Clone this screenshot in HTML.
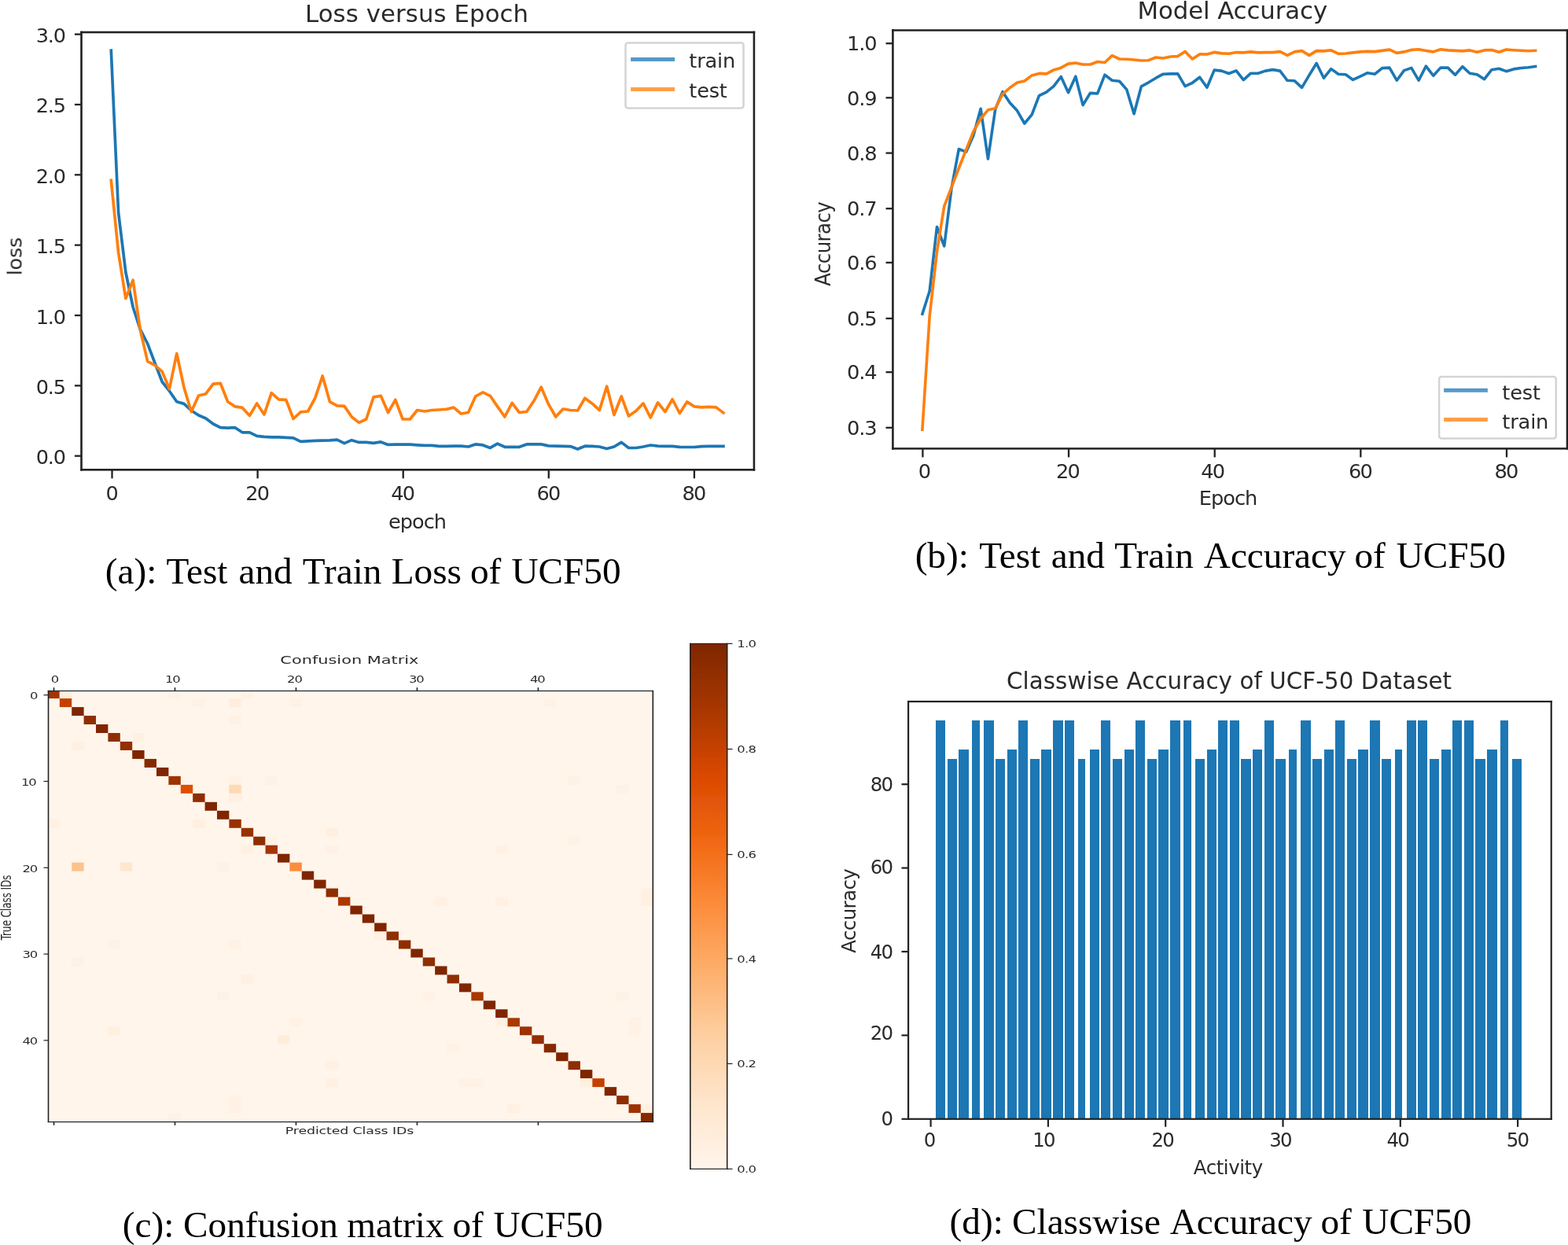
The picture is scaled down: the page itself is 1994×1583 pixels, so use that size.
<!DOCTYPE html>
<html lang="en"><head><meta charset="utf-8"><title>UCF50 training results</title>
<style>html,body{margin:0;padding:0;background:#fff}body{width:1994px;height:1583px;overflow:hidden}svg{display:block}.s{font-family:'DejaVu Sans','Liberation Sans',sans-serif}.r{font-family:'Liberation Serif','DejaVu Serif',serif}text{white-space:pre}</style></head><body>
<svg width="1994" height="1583" viewBox="0 0 1994 1583">
<rect width="1994" height="1583" fill="#ffffff"/>
<defs><filter id="bl" x="-2%" y="-2%" width="104%" height="104%"><feGaussianBlur stdDeviation="0.6"/></filter></defs><g filter="url(#bl)">
<g id="chart-a">
<polyline points="141.3,64.3 150.57,270 159.84,346 169.11,390.5 178.38,418.8 187.65,437 196.92,461.3 206.19,485.5 215.46,497.2 224.73,510.8 234,513.4 243.27,522 252.54,528 261.81,532 271.08,539 280.35,543.7 289.62,544.2 298.89,543.7 308.16,549.8 317.43,549.8 326.7,554.3 335.97,555.3 345.24,555.8 354.51,555.8 363.78,556.3 373.05,556.8 382.32,561.4 391.59,560.9 400.86,560.4 410.13,560.2 419.4,559.9 428.67,559.2 437.94,563.65 447.21,559.65 456.48,562.4 465.75,562.4 475.02,563.4 484.29,561.9 493.56,565.4 502.83,565.2 512.1,565.2 521.37,565.2 530.64,565.9 539.91,566.4 549.18,566.4 558.45,567.4 567.72,567.4 576.99,567.2 586.26,567.2 595.53,568 604.8,564.9 614.07,565.9 623.34,569.45 632.61,564.15 641.88,568.3 651.15,568.3 660.42,568.3 669.69,564.9 678.96,564.9 688.23,564.9 697.5,566.9 706.77,567.2 716.04,567.4 725.31,567.6 734.58,571.05 743.85,567.2 753.12,567.4 762.39,568 771.66,570.45 780.93,568 790.2,562.4 799.47,569.5 808.74,569.5 818.01,568 827.28,566 836.55,567.2 845.82,567.4 855.09,567.4 864.36,568.3 873.63,568.5 882.9,568.5 892.17,567.6 901.44,567.4 910.71,567.4 919.98,567.4" fill="none" stroke="#1f77b4" stroke-width="3.7" stroke-linejoin="round" stroke-linecap="square"/>
<polyline points="141.3,229.4 150.57,321 159.84,379.5 169.11,356.2 178.38,419.8 187.65,459.3 196.92,464.3 206.19,472.4 215.46,494.5 224.73,449.5 234,492.7 243.27,523.5 252.54,503 261.81,500.7 271.08,488.1 280.35,487.4 289.62,510.8 298.89,516.9 308.16,518.4 317.43,528.5 326.7,512.9 335.97,527 345.24,499.7 354.51,507.8 363.78,508.3 373.05,532.5 382.32,523.8 391.59,523 400.86,505.8 410.13,478 419.4,510.8 428.67,515.9 437.94,516.4 447.21,530 456.48,537.35 465.75,533 475.02,504.8 484.29,503.3 493.56,524.5 502.83,508.3 512.1,533 521.37,533 530.64,521.5 539.91,523 549.18,521.5 558.45,521 567.72,520.4 576.99,518.05 586.26,526 595.53,524.5 604.8,503.8 614.07,498.95 623.34,503.3 632.61,516.9 641.88,530 651.15,512.4 660.42,524.5 669.69,523.5 678.96,509.8 688.23,492.2 697.5,513.9 706.77,530 716.04,520 725.31,521.5 734.58,522 743.85,506.3 753.12,513.2 762.39,521.5 771.66,491.2 780.93,527.5 790.2,503.8 799.47,529 808.74,522.5 818.01,512.9 827.28,531 836.55,511.9 845.82,523.5 855.09,507.8 864.36,525.5 873.63,510.9 882.9,516.9 892.17,517.9 901.44,517.4 910.71,517.9 919.98,525" fill="none" stroke="#ff7f0e" stroke-width="3.7" stroke-linejoin="round" stroke-linecap="square"/>
<g fill="#222">
<rect x="102.2" y="39.7" width="858" height="2.6"/>
<rect x="102.2" y="596" width="858" height="2.6"/>
<rect x="102.2" y="39.7" width="2.6" height="558.9"/>
<rect x="957.6" y="39.7" width="2.6" height="558.9"/>
</g>
<line x1="142.5" y1="597.3" x2="142.5" y2="608.3" stroke="#222" stroke-width="2.3"/>
<text class="s" transform="translate(142.5,636)" font-size="25.57" text-anchor="middle" fill="#2b2b2b">0</text>
<line x1="327.6" y1="597.3" x2="327.6" y2="608.3" stroke="#222" stroke-width="2.3"/>
<text class="s" transform="translate(327.6,636)" font-size="25.57" text-anchor="middle" fill="#2b2b2b" textLength="30.68" lengthAdjust="spacing">20</text>
<line x1="512.7" y1="597.3" x2="512.7" y2="608.3" stroke="#222" stroke-width="2.3"/>
<text class="s" transform="translate(512.7,636)" font-size="25.57" text-anchor="middle" fill="#2b2b2b" textLength="30.68" lengthAdjust="spacing">40</text>
<line x1="697.8" y1="597.3" x2="697.8" y2="608.3" stroke="#222" stroke-width="2.3"/>
<text class="s" transform="translate(697.8,636)" font-size="25.57" text-anchor="middle" fill="#2b2b2b" textLength="30.68" lengthAdjust="spacing">60</text>
<line x1="882.9" y1="597.3" x2="882.9" y2="608.3" stroke="#222" stroke-width="2.3"/>
<text class="s" transform="translate(882.9,636)" font-size="25.57" text-anchor="middle" fill="#2b2b2b" textLength="30.68" lengthAdjust="spacing">80</text>
<line x1="94.9" y1="579.7" x2="103.5" y2="579.7" stroke="#222" stroke-width="2.3"/>
<text class="s" transform="translate(84,590.2)" font-size="25.57" text-anchor="end" fill="#2b2b2b" textLength="38.36" lengthAdjust="spacing">0.0</text>
<line x1="94.9" y1="490.35" x2="103.5" y2="490.35" stroke="#222" stroke-width="2.3"/>
<text class="s" transform="translate(84,500.85)" font-size="25.57" text-anchor="end" fill="#2b2b2b" textLength="38.36" lengthAdjust="spacing">0.5</text>
<line x1="94.9" y1="401" x2="103.5" y2="401" stroke="#222" stroke-width="2.3"/>
<text class="s" transform="translate(84,411.5)" font-size="25.57" text-anchor="end" fill="#2b2b2b" textLength="38.36" lengthAdjust="spacing">1.0</text>
<line x1="94.9" y1="311.65" x2="103.5" y2="311.65" stroke="#222" stroke-width="2.3"/>
<text class="s" transform="translate(84,322.15)" font-size="25.57" text-anchor="end" fill="#2b2b2b" textLength="38.36" lengthAdjust="spacing">1.5</text>
<line x1="94.9" y1="222.3" x2="103.5" y2="222.3" stroke="#222" stroke-width="2.3"/>
<text class="s" transform="translate(84,232.8)" font-size="25.57" text-anchor="end" fill="#2b2b2b" textLength="38.36" lengthAdjust="spacing">2.0</text>
<line x1="94.9" y1="132.95" x2="103.5" y2="132.95" stroke="#222" stroke-width="2.3"/>
<text class="s" transform="translate(84,143.45)" font-size="25.57" text-anchor="end" fill="#2b2b2b" textLength="38.36" lengthAdjust="spacing">2.5</text>
<line x1="94.9" y1="43.6" x2="103.5" y2="43.6" stroke="#222" stroke-width="2.3"/>
<text class="s" transform="translate(84,54.1)" font-size="25.57" text-anchor="end" fill="#2b2b2b" textLength="38.36" lengthAdjust="spacing">3.0</text>
<text class="s" transform="translate(530,27.6)" font-size="30.7" text-anchor="middle" fill="#2b2b2b" textLength="283.97" lengthAdjust="spacing">Loss versus Epoch</text>
<text class="s" transform="translate(531,672.4)" font-size="25.57" text-anchor="middle" fill="#2b2b2b" textLength="74.15" lengthAdjust="spacing">epoch</text>
<text class="s" transform="translate(27.5,326) rotate(-90)" font-size="25.57" text-anchor="middle" fill="#2b2b2b" textLength="48.58" lengthAdjust="spacing">loss</text>
<rect x="795.5" y="54.5" width="150" height="82.9" rx="3" fill="#fff" fill-opacity="0.8" stroke="#d4d4d4" stroke-width="2.5"/>
<line x1="802.1" y1="75.5" x2="858.1" y2="75.5" stroke="#5799c7" stroke-width="5"/>
<text class="s" transform="translate(876.3,85.7)" font-size="25.57" fill="#2b2b2b" textLength="58.81" lengthAdjust="spacing">train</text>
<line x1="802.1" y1="113.5" x2="858.1" y2="113.5" stroke="#ff9f4a" stroke-width="5"/>
<text class="s" transform="translate(876.3,123.6)" font-size="25.57" fill="#2b2b2b" textLength="48.58" lengthAdjust="spacing">test</text>
</g>
<g id="chart-b">
<polyline points="1172.9,399.2 1182.18,370 1191.47,288.5 1200.75,312.9 1210.03,239.4 1219.31,189.55 1228.6,193.15 1237.88,172.2 1247.16,138.3 1256.44,202 1265.73,138.8 1275.01,116.7 1284.29,130.7 1293.57,140.8 1302.86,157 1312.14,145.9 1321.42,121.6 1330.7,117.1 1339.99,109.6 1349.27,97.5 1358.55,117.7 1367.83,97.2 1377.12,133.6 1386.4,118.4 1395.68,118.9 1404.96,95.2 1414.25,102.3 1423.53,103.3 1432.81,113.9 1442.09,144.7 1451.38,109.8 1460.66,104.8 1469.94,99.2 1479.22,94.2 1488.51,93.9 1497.79,93.9 1507.07,109.55 1516.35,105.3 1525.64,98.2 1534.92,111.3 1544.2,89.1 1553.48,90.1 1562.77,93.45 1572.05,89.85 1581.33,101.7 1590.61,93.2 1599.89,93.2 1609.18,90.1 1618.46,88.6 1627.74,90.1 1637.03,102.3 1646.31,102.8 1655.59,111.3 1664.87,95.7 1674.16,80.5 1683.44,99.2 1692.72,87.6 1702,94.2 1711.29,94.7 1720.57,101.45 1729.85,97.2 1739.13,92.7 1748.41,94.2 1757.7,86.6 1766.98,86.1 1776.26,102.2 1785.55,89.6 1794.83,86.35 1804.11,102.2 1813.39,84.1 1822.68,96.2 1831.96,86.1 1841.24,86.1 1850.52,95.2 1859.81,84.6 1869.09,93.2 1878.37,94.7 1887.65,100.7 1896.94,88.7 1906.22,87.3 1915.5,90.65 1924.78,87.9 1934.07,86.5 1943.35,85.7 1952.63,84.5" fill="none" stroke="#1f77b4" stroke-width="3.6" stroke-linejoin="round" stroke-linecap="square"/>
<polyline points="1172.9,546.4 1182.18,401.7 1191.47,320.2 1200.75,262.1 1210.03,238.1 1219.31,214 1228.6,190.4 1237.88,167.1 1247.16,151 1256.44,139.8 1265.73,137.8 1275.01,119.6 1284.29,111.5 1293.57,105 1302.86,103 1312.14,95.9 1321.42,93.4 1330.7,93.9 1339.99,88.9 1349.27,86.2 1358.55,81.1 1367.83,80 1377.12,82 1386.4,82 1395.68,78.5 1404.96,79.5 1414.25,70.65 1423.53,75 1432.81,75.3 1442.09,76 1451.38,77 1460.66,76.7 1469.94,73 1479.22,74 1488.51,72 1497.79,71.6 1507.07,65.4 1516.35,75 1525.64,68.9 1534.92,69 1544.2,66.4 1553.48,67.9 1562.77,68.2 1572.05,66.6 1581.33,66.9 1590.61,65.9 1599.89,66.9 1609.18,66.6 1618.46,66.6 1627.74,65.6 1637.03,70.35 1646.31,65.9 1655.59,64.6 1664.87,70.4 1674.16,64.6 1683.44,64.9 1692.72,63.9 1702,68.4 1711.29,68 1720.57,66.9 1729.85,65.9 1739.13,65.4 1748.41,65.6 1757.7,64.4 1766.98,63.1 1776.26,67.4 1785.55,65.9 1794.83,63.4 1804.11,62.8 1813.39,64.4 1822.68,65.9 1831.96,62.8 1841.24,63.9 1850.52,64.4 1859.81,64.9 1869.09,63.9 1878.37,66.15 1887.65,63.9 1896.94,63.5 1906.22,66.25 1915.5,63 1924.78,63.7 1934.07,64.3 1943.35,64.8 1952.63,64.4" fill="none" stroke="#ff7f0e" stroke-width="3.6" stroke-linejoin="round" stroke-linecap="square"/>
<g fill="#222">
<rect x="1134.1" y="37.25" width="860.2" height="2.5"/>
<rect x="1134.1" y="569.15" width="860.2" height="2.5"/>
<rect x="1134.1" y="37.25" width="2.6" height="534.4"/>
<rect x="1991.7" y="37.25" width="2.6" height="534.4"/>
</g>
<line x1="1173.4" y1="570.4" x2="1173.4" y2="581.4" stroke="#222" stroke-width="2.3"/>
<text class="s" transform="translate(1175.9,608) scale(1.05,1)" font-size="24.46" text-anchor="middle" fill="#2b2b2b">0</text>
<line x1="1359.05" y1="570.4" x2="1359.05" y2="581.4" stroke="#222" stroke-width="2.3"/>
<text class="s" transform="translate(1358.45,608) scale(1.05,1)" font-size="24.46" text-anchor="middle" fill="#2b2b2b" textLength="29.35" lengthAdjust="spacing">20</text>
<line x1="1544.7" y1="570.4" x2="1544.7" y2="581.4" stroke="#222" stroke-width="2.3"/>
<text class="s" transform="translate(1542.7,608) scale(1.05,1)" font-size="24.46" text-anchor="middle" fill="#2b2b2b" textLength="29.35" lengthAdjust="spacing">40</text>
<line x1="1730.35" y1="570.4" x2="1730.35" y2="581.4" stroke="#222" stroke-width="2.3"/>
<text class="s" transform="translate(1730.35,608) scale(1.05,1)" font-size="24.46" text-anchor="middle" fill="#2b2b2b" textLength="29.35" lengthAdjust="spacing">60</text>
<line x1="1916" y1="570.4" x2="1916" y2="581.4" stroke="#222" stroke-width="2.3"/>
<text class="s" transform="translate(1916,608) scale(1.05,1)" font-size="24.46" text-anchor="middle" fill="#2b2b2b" textLength="29.35" lengthAdjust="spacing">80</text>
<line x1="1126.5" y1="543.8" x2="1135.4" y2="543.8" stroke="#222" stroke-width="2.3"/>
<text class="s" transform="translate(1115.5,553) scale(1.05,1)" font-size="24.46" text-anchor="end" fill="#2b2b2b" textLength="36.69" lengthAdjust="spacing">0.3</text>
<line x1="1126.5" y1="473.2" x2="1135.4" y2="473.2" stroke="#222" stroke-width="2.3"/>
<text class="s" transform="translate(1115.5,482.4) scale(1.05,1)" font-size="24.46" text-anchor="end" fill="#2b2b2b" textLength="36.69" lengthAdjust="spacing">0.4</text>
<line x1="1126.5" y1="404.9" x2="1135.4" y2="404.9" stroke="#222" stroke-width="2.3"/>
<text class="s" transform="translate(1115.5,414.1) scale(1.05,1)" font-size="24.46" text-anchor="end" fill="#2b2b2b" textLength="36.69" lengthAdjust="spacing">0.5</text>
<line x1="1126.5" y1="333.9" x2="1135.4" y2="333.9" stroke="#222" stroke-width="2.3"/>
<text class="s" transform="translate(1115.5,343.1) scale(1.05,1)" font-size="24.46" text-anchor="end" fill="#2b2b2b" textLength="36.69" lengthAdjust="spacing">0.6</text>
<line x1="1126.5" y1="265.2" x2="1135.4" y2="265.2" stroke="#222" stroke-width="2.3"/>
<text class="s" transform="translate(1115.5,274.4) scale(1.05,1)" font-size="24.46" text-anchor="end" fill="#2b2b2b" textLength="36.69" lengthAdjust="spacing">0.7</text>
<line x1="1126.5" y1="194.6" x2="1135.4" y2="194.6" stroke="#222" stroke-width="2.3"/>
<text class="s" transform="translate(1115.5,203.8) scale(1.05,1)" font-size="24.46" text-anchor="end" fill="#2b2b2b" textLength="36.69" lengthAdjust="spacing">0.8</text>
<line x1="1126.5" y1="124.3" x2="1135.4" y2="124.3" stroke="#222" stroke-width="2.3"/>
<text class="s" transform="translate(1115.5,133.5) scale(1.05,1)" font-size="24.46" text-anchor="end" fill="#2b2b2b" textLength="36.69" lengthAdjust="spacing">0.9</text>
<line x1="1126.5" y1="55.2" x2="1135.4" y2="55.2" stroke="#222" stroke-width="2.3"/>
<text class="s" transform="translate(1115.5,64.4) scale(1.05,1)" font-size="24.46" text-anchor="end" fill="#2b2b2b" textLength="36.69" lengthAdjust="spacing">1.0</text>
<text class="s" transform="translate(1567.3,24.2) scale(1.05,1)" font-size="29.35" text-anchor="middle" fill="#2b2b2b" textLength="230.18" lengthAdjust="spacing">Model Accuracy</text>
<text class="s" transform="translate(1562,642) scale(1.05,1)" font-size="24.46" text-anchor="middle" fill="#2b2b2b" textLength="70.93" lengthAdjust="spacing">Epoch</text>
<text class="s" transform="translate(1056,310) scale(1.05,1) rotate(-90)" font-size="24.46" text-anchor="middle" fill="#2b2b2b" textLength="107.62" lengthAdjust="spacing">Accuracy</text>
<rect x="1830.1" y="479" width="148.7" height="78.5" rx="3" fill="#fff" fill-opacity="0.8" stroke="#d4d4d4" stroke-width="2.5"/>
<line x1="1836.1" y1="496.2" x2="1891.9" y2="496.2" stroke="#5799c7" stroke-width="5"/>
<text class="s" transform="translate(1910.3,508.2) scale(1.05,1)" font-size="24.46" fill="#2b2b2b" textLength="46.47" lengthAdjust="spacing">test</text>
<line x1="1836.1" y1="533.4" x2="1891.9" y2="533.4" stroke="#ff9f4a" stroke-width="5"/>
<text class="s" transform="translate(1910.3,544.5) scale(1.05,1)" font-size="24.46" fill="#2b2b2b" textLength="56.26" lengthAdjust="spacing">train</text>
</g>
<g id="chart-c">
<rect x="61.5" y="878.5" width="768.8" height="548" fill="#fff5eb"/>
<g>
<rect x="61.5" y="878.5" width="14.3" height="9.58" fill="#a43503"/>
<rect x="75.8" y="878.5" width="15.4" height="9.58" fill="#ffefdf"/>
<rect x="214.38" y="878.5" width="15.4" height="9.58" fill="#fff1e4"/>
<rect x="306.77" y="878.5" width="15.4" height="9.58" fill="#fff1e4"/>
<rect x="75.8" y="888.08" width="15.4" height="10.98" fill="#c54102"/>
<rect x="245.18" y="888.08" width="15.4" height="10.98" fill="#fff1e4"/>
<rect x="291.37" y="888.08" width="15.4" height="10.98" fill="#ffeedd"/>
<rect x="368.36" y="888.08" width="15.4" height="10.98" fill="#fff1e4"/>
<rect x="691.72" y="888.08" width="15.4" height="10.98" fill="#fff1e4"/>
<rect x="91.2" y="899.06" width="15.4" height="10.98" fill="#7f2704"/>
<rect x="106.59" y="910.04" width="15.4" height="10.98" fill="#8f2d04"/>
<rect x="291.37" y="910.04" width="15.4" height="10.98" fill="#fff1e4"/>
<rect x="121.99" y="921.02" width="15.4" height="10.98" fill="#7f2704"/>
<rect x="137.39" y="932" width="15.4" height="10.98" fill="#8f2d04"/>
<rect x="168.19" y="932" width="15.4" height="10.98" fill="#fff0e2"/>
<rect x="91.2" y="942.97" width="15.4" height="10.98" fill="#fff0e2"/>
<rect x="152.79" y="942.97" width="15.4" height="10.98" fill="#952f03"/>
<rect x="168.19" y="953.95" width="15.4" height="10.98" fill="#7f2704"/>
<rect x="183.58" y="964.93" width="15.4" height="10.98" fill="#852904"/>
<rect x="198.98" y="975.91" width="15.4" height="10.98" fill="#7f2704"/>
<rect x="214.38" y="986.89" width="15.4" height="10.98" fill="#9e3303"/>
<rect x="291.37" y="986.89" width="15.4" height="10.98" fill="#fff1e4"/>
<rect x="337.56" y="986.89" width="15.4" height="10.98" fill="#fff1e4"/>
<rect x="722.51" y="986.89" width="15.4" height="10.98" fill="#fff1e4"/>
<rect x="229.78" y="997.87" width="15.4" height="10.98" fill="#df5005"/>
<rect x="291.37" y="997.87" width="15.4" height="10.98" fill="#fdd9b4"/>
<rect x="784.11" y="997.87" width="15.4" height="10.98" fill="#fff1e4"/>
<rect x="245.18" y="1008.85" width="15.4" height="10.98" fill="#8f2d04"/>
<rect x="291.37" y="1008.85" width="15.4" height="10.98" fill="#fff0e2"/>
<rect x="260.57" y="1019.83" width="15.4" height="10.98" fill="#7f2704"/>
<rect x="275.97" y="1030.81" width="15.4" height="10.98" fill="#7f2704"/>
<rect x="61.5" y="1041.79" width="14.3" height="10.98" fill="#fff0e2"/>
<rect x="245.18" y="1041.79" width="15.4" height="10.98" fill="#ffefdf"/>
<rect x="291.37" y="1041.79" width="15.4" height="10.98" fill="#983103"/>
<rect x="306.77" y="1052.76" width="15.4" height="10.98" fill="#983103"/>
<rect x="414.55" y="1052.76" width="15.4" height="10.98" fill="#ffefdf"/>
<rect x="322.17" y="1063.74" width="15.4" height="10.98" fill="#8f2d04"/>
<rect x="337.56" y="1063.74" width="15.4" height="10.98" fill="#fff1e4"/>
<rect x="722.51" y="1063.74" width="15.4" height="10.98" fill="#fff1e4"/>
<rect x="306.77" y="1074.72" width="15.4" height="10.98" fill="#fff0e2"/>
<rect x="337.56" y="1074.72" width="15.4" height="10.98" fill="#a43503"/>
<rect x="414.55" y="1074.72" width="15.4" height="10.98" fill="#fff1e4"/>
<rect x="630.13" y="1074.72" width="15.4" height="10.98" fill="#fff1e4"/>
<rect x="352.96" y="1085.7" width="15.4" height="10.98" fill="#7f2704"/>
<rect x="91.2" y="1096.68" width="15.4" height="10.98" fill="#fdc28c"/>
<rect x="152.79" y="1096.68" width="15.4" height="10.98" fill="#fee7cf"/>
<rect x="275.97" y="1096.68" width="15.4" height="10.98" fill="#fff1e4"/>
<rect x="368.36" y="1096.68" width="15.4" height="10.98" fill="#fd8d3c"/>
<rect x="383.76" y="1107.66" width="15.4" height="10.98" fill="#7f2704"/>
<rect x="399.16" y="1118.64" width="15.4" height="10.98" fill="#7f2704"/>
<rect x="414.55" y="1129.62" width="15.4" height="10.98" fill="#8f2d04"/>
<rect x="814.9" y="1129.62" width="15.4" height="10.98" fill="#fff0e2"/>
<rect x="429.95" y="1140.6" width="15.4" height="10.98" fill="#ac3803"/>
<rect x="553.14" y="1140.6" width="15.4" height="10.98" fill="#fff0e2"/>
<rect x="630.13" y="1140.6" width="15.4" height="10.98" fill="#fff0e2"/>
<rect x="814.9" y="1140.6" width="15.4" height="10.98" fill="#fff0e2"/>
<rect x="445.35" y="1151.58" width="15.4" height="10.98" fill="#7f2704"/>
<rect x="460.75" y="1162.55" width="15.4" height="10.98" fill="#7f2704"/>
<rect x="476.15" y="1173.53" width="15.4" height="10.98" fill="#7f2704"/>
<rect x="476.15" y="1184.51" width="15.4" height="10.98" fill="#fff0e2"/>
<rect x="491.54" y="1184.51" width="15.4" height="10.98" fill="#8f2d04"/>
<rect x="137.39" y="1195.49" width="15.4" height="10.98" fill="#fff1e4"/>
<rect x="291.37" y="1195.49" width="15.4" height="10.98" fill="#fff1e4"/>
<rect x="506.94" y="1195.49" width="15.4" height="10.98" fill="#8f2d04"/>
<rect x="522.34" y="1206.47" width="15.4" height="10.98" fill="#7f2704"/>
<rect x="91.2" y="1217.45" width="15.4" height="10.98" fill="#fff1e4"/>
<rect x="537.74" y="1217.45" width="15.4" height="10.98" fill="#8f2d04"/>
<rect x="553.14" y="1228.43" width="15.4" height="10.98" fill="#7f2704"/>
<rect x="306.77" y="1239.41" width="15.4" height="10.98" fill="#fff0e2"/>
<rect x="568.53" y="1239.41" width="15.4" height="10.98" fill="#8f2d04"/>
<rect x="583.93" y="1250.39" width="15.4" height="10.98" fill="#7f2704"/>
<rect x="275.97" y="1261.37" width="15.4" height="10.98" fill="#fff1e4"/>
<rect x="537.74" y="1261.37" width="15.4" height="10.98" fill="#fff1e4"/>
<rect x="599.33" y="1261.37" width="15.4" height="10.98" fill="#a83703"/>
<rect x="784.11" y="1261.37" width="15.4" height="10.98" fill="#fff1e4"/>
<rect x="614.73" y="1272.34" width="15.4" height="10.98" fill="#7f2704"/>
<rect x="630.13" y="1283.32" width="15.4" height="10.98" fill="#7f2704"/>
<rect x="368.36" y="1294.3" width="15.4" height="10.98" fill="#fff1e4"/>
<rect x="630.13" y="1294.3" width="15.4" height="10.98" fill="#fff0e2"/>
<rect x="645.52" y="1294.3" width="15.4" height="10.98" fill="#ac3803"/>
<rect x="799.5" y="1294.3" width="15.4" height="10.98" fill="#fff1e4"/>
<rect x="137.39" y="1305.28" width="15.4" height="10.98" fill="#ffefdf"/>
<rect x="660.92" y="1305.28" width="15.4" height="10.98" fill="#9e3303"/>
<rect x="799.5" y="1305.28" width="15.4" height="10.98" fill="#fff1e4"/>
<rect x="352.96" y="1316.26" width="15.4" height="10.98" fill="#feeddb"/>
<rect x="676.32" y="1316.26" width="15.4" height="10.98" fill="#952f03"/>
<rect x="568.53" y="1327.24" width="15.4" height="10.98" fill="#fff1e4"/>
<rect x="691.72" y="1327.24" width="15.4" height="10.98" fill="#852904"/>
<rect x="707.12" y="1338.22" width="15.4" height="10.98" fill="#7f2704"/>
<rect x="414.55" y="1349.2" width="15.4" height="10.98" fill="#fff0e2"/>
<rect x="722.51" y="1349.2" width="15.4" height="10.98" fill="#8f2d04"/>
<rect x="737.91" y="1360.18" width="15.4" height="10.98" fill="#7f2704"/>
<rect x="414.55" y="1371.15" width="15.4" height="10.98" fill="#fff0e2"/>
<rect x="583.93" y="1371.15" width="15.4" height="10.98" fill="#fff1e4"/>
<rect x="599.33" y="1371.15" width="15.4" height="10.98" fill="#fff1e4"/>
<rect x="737.91" y="1371.15" width="15.4" height="10.98" fill="#ffefdf"/>
<rect x="753.31" y="1371.15" width="15.4" height="10.98" fill="#c54102"/>
<rect x="768.71" y="1382.13" width="15.4" height="10.98" fill="#7f2704"/>
<rect x="291.37" y="1393.11" width="15.4" height="10.98" fill="#fff1e4"/>
<rect x="784.11" y="1393.11" width="15.4" height="10.98" fill="#8f2d04"/>
<rect x="291.37" y="1404.09" width="15.4" height="10.98" fill="#fff1e4"/>
<rect x="645.52" y="1404.09" width="15.4" height="10.98" fill="#fff0e2"/>
<rect x="799.5" y="1404.09" width="15.4" height="10.98" fill="#9e3303"/>
<rect x="814.9" y="1404.09" width="15.4" height="10.98" fill="#fff0e2"/>
<rect x="214.38" y="1415.07" width="15.4" height="10.98" fill="#fff1e4"/>
<rect x="814.9" y="1415.07" width="15.4" height="10.98" fill="#852904"/>
</g>
<g fill="#222">
<rect x="60.7" y="877.9" width="770.4" height="1.2"/>
<rect x="60.7" y="1425.9" width="770.4" height="1.2"/>
<rect x="60.7" y="877.9" width="1.6" height="549.2"/>
<rect x="829.5" y="877.9" width="1.6" height="549.2"/>
</g>
<line x1="68.5" y1="874.2" x2="68.5" y2="878.5" stroke="#222" stroke-width="1.6"/>
<line x1="68.5" y1="1426.5" x2="68.5" y2="1430.8" stroke="#222" stroke-width="1.6"/>
<text class="s" transform="translate(70,867.7) scale(1.33,1)" font-size="12.33" text-anchor="middle" fill="#2b2b2b">0</text>
<line x1="55.5" y1="883.69" x2="61.5" y2="883.69" stroke="#222" stroke-width="1.2"/>
<text class="s" transform="translate(48.5,888.99) scale(1.33,1)" font-size="12.33" text-anchor="end" fill="#2b2b2b">0</text>
<line x1="222.48" y1="874.2" x2="222.48" y2="878.5" stroke="#222" stroke-width="1.6"/>
<line x1="222.48" y1="1426.5" x2="222.48" y2="1430.8" stroke="#222" stroke-width="1.6"/>
<text class="s" transform="translate(219.88,867.7) scale(1.33,1)" font-size="12.33" text-anchor="middle" fill="#2b2b2b" textLength="14.8" lengthAdjust="spacing">10</text>
<line x1="55.5" y1="993.48" x2="61.5" y2="993.48" stroke="#222" stroke-width="1.2"/>
<text class="s" transform="translate(46.8,998.78) scale(1.33,1)" font-size="12.33" text-anchor="end" fill="#2b2b2b" textLength="14.8" lengthAdjust="spacing">10</text>
<line x1="376.46" y1="874.2" x2="376.46" y2="878.5" stroke="#222" stroke-width="1.6"/>
<line x1="376.46" y1="1426.5" x2="376.46" y2="1430.8" stroke="#222" stroke-width="1.6"/>
<text class="s" transform="translate(374.96,867.7) scale(1.33,1)" font-size="12.33" text-anchor="middle" fill="#2b2b2b" textLength="14.8" lengthAdjust="spacing">20</text>
<line x1="55.5" y1="1103.27" x2="61.5" y2="1103.27" stroke="#222" stroke-width="1.2"/>
<text class="s" transform="translate(48.1,1108.57) scale(1.33,1)" font-size="12.33" text-anchor="end" fill="#2b2b2b" textLength="14.8" lengthAdjust="spacing">20</text>
<line x1="530.44" y1="874.2" x2="530.44" y2="878.5" stroke="#222" stroke-width="1.6"/>
<line x1="530.44" y1="1426.5" x2="530.44" y2="1430.8" stroke="#222" stroke-width="1.6"/>
<text class="s" transform="translate(529.84,867.7) scale(1.33,1)" font-size="12.33" text-anchor="middle" fill="#2b2b2b" textLength="14.8" lengthAdjust="spacing">30</text>
<line x1="55.5" y1="1213.06" x2="61.5" y2="1213.06" stroke="#222" stroke-width="1.2"/>
<text class="s" transform="translate(48.1,1218.36) scale(1.33,1)" font-size="12.33" text-anchor="end" fill="#2b2b2b" textLength="14.8" lengthAdjust="spacing">30</text>
<line x1="684.42" y1="874.2" x2="684.42" y2="878.5" stroke="#222" stroke-width="1.6"/>
<line x1="684.42" y1="1426.5" x2="684.42" y2="1430.8" stroke="#222" stroke-width="1.6"/>
<text class="s" transform="translate(683.92,867.7) scale(1.33,1)" font-size="12.33" text-anchor="middle" fill="#2b2b2b" textLength="14.8" lengthAdjust="spacing">40</text>
<line x1="55.5" y1="1322.85" x2="61.5" y2="1322.85" stroke="#222" stroke-width="1.2"/>
<text class="s" transform="translate(48.1,1328.15) scale(1.33,1)" font-size="12.33" text-anchor="end" fill="#2b2b2b" textLength="14.8" lengthAdjust="spacing">40</text>
<text class="s" transform="translate(444.4,843.9) scale(1.41,1)" font-size="14.8" text-anchor="middle" fill="#2b2b2b" textLength="124.91" lengthAdjust="spacing">Confusion Matrix</text>
<text class="s" transform="translate(444.5,1441.9) scale(1.41,1)" font-size="12.33" text-anchor="middle" fill="#2b2b2b" textLength="115.9" lengthAdjust="spacing">Predicted Class IDs</text>
<text class="s" transform="translate(13.7,1154) scale(1.41,1) rotate(-90)" font-size="12.33" text-anchor="middle" fill="#2b2b2b" textLength="83" lengthAdjust="spacing">True Class IDs</text>
<defs><linearGradient id="og" x1="0" y1="1" x2="0" y2="0"><stop offset="0" stop-color="#fff5eb"/><stop offset="0.12" stop-color="#fee6ce"/><stop offset="0.25" stop-color="#fdd0a2"/><stop offset="0.38" stop-color="#fdae6b"/><stop offset="0.5" stop-color="#fd8d3c"/><stop offset="0.62" stop-color="#f16913"/><stop offset="0.75" stop-color="#d94801"/><stop offset="0.88" stop-color="#a63603"/><stop offset="1" stop-color="#7f2704"/></linearGradient></defs>
<rect x="877.8" y="818.4" width="46.9" height="667.9" fill="url(#og)"/>
<g fill="#222">
<rect x="877" y="817.8" width="48.5" height="1.2"/>
<rect x="877" y="1485.7" width="48.5" height="1.2"/>
<rect x="877" y="817.8" width="1.6" height="669.1"/>
<rect x="923.9" y="817.8" width="1.6" height="669.1"/>
</g>
<line x1="924.7" y1="1486.3" x2="931.5" y2="1486.3" stroke="#222" stroke-width="1.2"/>
<text class="s" transform="translate(937.3,1491.2) scale(1.33,1)" font-size="12.33" fill="#2b2b2b" textLength="18.49" lengthAdjust="spacing">0.0</text>
<line x1="924.7" y1="1352.5" x2="931.5" y2="1352.5" stroke="#222" stroke-width="1.2"/>
<text class="s" transform="translate(937.3,1357.4) scale(1.33,1)" font-size="12.33" fill="#2b2b2b" textLength="18.49" lengthAdjust="spacing">0.2</text>
<line x1="924.7" y1="1218.9" x2="931.5" y2="1218.9" stroke="#222" stroke-width="1.2"/>
<text class="s" transform="translate(937.3,1223.8) scale(1.33,1)" font-size="12.33" fill="#2b2b2b" textLength="18.49" lengthAdjust="spacing">0.4</text>
<line x1="924.7" y1="1086.5" x2="931.5" y2="1086.5" stroke="#222" stroke-width="1.2"/>
<text class="s" transform="translate(937.3,1091.4) scale(1.33,1)" font-size="12.33" fill="#2b2b2b" textLength="18.49" lengthAdjust="spacing">0.6</text>
<line x1="924.7" y1="952.5" x2="931.5" y2="952.5" stroke="#222" stroke-width="1.2"/>
<text class="s" transform="translate(937.3,957.4) scale(1.33,1)" font-size="12.33" fill="#2b2b2b" textLength="18.49" lengthAdjust="spacing">0.8</text>
<line x1="924.7" y1="818.4" x2="931.5" y2="818.4" stroke="#222" stroke-width="1.2"/>
<text class="s" transform="translate(937.3,823.3) scale(1.33,1)" font-size="12.33" fill="#2b2b2b" textLength="18.49" lengthAdjust="spacing">1.0</text>
</g>
<g id="chart-d">
<g fill="#1f77b4" shape-rendering="crispEdges">
<rect x="1190.03" y="916" width="11.86" height="506.8"/>
<rect x="1205.13" y="965.2" width="11.86" height="457.6"/>
<rect x="1219.14" y="953.1" width="12.72" height="469.7"/>
<rect x="1235.96" y="916" width="9.92" height="506.8"/>
<rect x="1251.06" y="916" width="12.72" height="506.8"/>
<rect x="1266.15" y="965.2" width="11.86" height="457.6"/>
<rect x="1281.03" y="953.1" width="11.86" height="469.7"/>
<rect x="1295.05" y="916" width="11.64" height="506.8"/>
<rect x="1309.93" y="965.2" width="11.86" height="457.6"/>
<rect x="1323.95" y="953.1" width="12.72" height="469.7"/>
<rect x="1339.04" y="916" width="12.72" height="506.8"/>
<rect x="1354.14" y="916" width="11.64" height="506.8"/>
<rect x="1370.96" y="965.2" width="8.84" height="457.6"/>
<rect x="1386.05" y="953.1" width="11.86" height="469.7"/>
<rect x="1400.07" y="916" width="11.86" height="506.8"/>
<rect x="1415.17" y="965.2" width="11.64" height="457.6"/>
<rect x="1430.05" y="953.1" width="11.86" height="469.7"/>
<rect x="1444.06" y="916" width="11.86" height="506.8"/>
<rect x="1459.16" y="965.2" width="11.64" height="457.6"/>
<rect x="1473.17" y="953.1" width="12.72" height="469.7"/>
<rect x="1488.05" y="916" width="12.72" height="506.8"/>
<rect x="1505.09" y="916" width="9.7" height="506.8"/>
<rect x="1519.97" y="965.2" width="11.86" height="457.6"/>
<rect x="1535.07" y="953.1" width="11.86" height="469.7"/>
<rect x="1549.08" y="916" width="11.64" height="506.8"/>
<rect x="1564" y="916" width="11.86" height="506.8"/>
<rect x="1578.02" y="965.2" width="12.94" height="457.6"/>
<rect x="1593.11" y="953.1" width="11.86" height="469.7"/>
<rect x="1607.99" y="916" width="12.08" height="506.8"/>
<rect x="1622.01" y="965.2" width="12.94" height="457.6"/>
<rect x="1639.05" y="953.1" width="9.92" height="469.7"/>
<rect x="1654.14" y="916" width="12.72" height="506.8"/>
<rect x="1669.02" y="965.2" width="11.86" height="457.6"/>
<rect x="1684.12" y="953.1" width="11.86" height="469.7"/>
<rect x="1698.13" y="916" width="11.86" height="506.8"/>
<rect x="1713.01" y="965.2" width="11.86" height="457.6"/>
<rect x="1727.03" y="953.1" width="12.72" height="469.7"/>
<rect x="1742.12" y="916" width="12.72" height="506.8"/>
<rect x="1757" y="965.2" width="11.86" height="457.6"/>
<rect x="1774.04" y="953.1" width="9.06" height="469.7"/>
<rect x="1789.14" y="916" width="11.86" height="506.8"/>
<rect x="1803.15" y="916" width="11.86" height="506.8"/>
<rect x="1818.03" y="965.2" width="11.86" height="457.6"/>
<rect x="1833.13" y="953.1" width="11.86" height="469.7"/>
<rect x="1847.14" y="916" width="11.86" height="506.8"/>
<rect x="1862.02" y="916" width="12.08" height="506.8"/>
<rect x="1876.26" y="965.2" width="12.72" height="457.6"/>
<rect x="1891.14" y="953.1" width="12.94" height="469.7"/>
<rect x="1908.17" y="916" width="9.7" height="506.8"/>
<rect x="1923.05" y="965.2" width="11.86" height="457.6"/>
</g>
<g fill="#222">
<rect x="1154" y="890.9" width="819.8" height="2.2"/>
<rect x="1154" y="1421.7" width="819.8" height="2.2"/>
<rect x="1154" y="890.9" width="2.2" height="533"/>
<rect x="1971.6" y="890.9" width="2.2" height="533"/>
</g>
<line x1="1183.6" y1="1422.8" x2="1183.6" y2="1432.8" stroke="#222" stroke-width="2.2"/>
<text class="s" transform="translate(1182.6,1457.6)" font-size="24.42" text-anchor="middle" fill="#2b2b2b">0</text>
<line x1="1332.9" y1="1422.8" x2="1332.9" y2="1432.8" stroke="#222" stroke-width="2.2"/>
<text class="s" transform="translate(1327.9,1457.6)" font-size="24.42" text-anchor="middle" fill="#2b2b2b" textLength="29.3" lengthAdjust="spacing">10</text>
<line x1="1482.2" y1="1422.8" x2="1482.2" y2="1432.8" stroke="#222" stroke-width="2.2"/>
<text class="s" transform="translate(1479.2,1457.6)" font-size="24.42" text-anchor="middle" fill="#2b2b2b" textLength="29.3" lengthAdjust="spacing">20</text>
<line x1="1631.5" y1="1422.8" x2="1631.5" y2="1432.8" stroke="#222" stroke-width="2.2"/>
<text class="s" transform="translate(1628.9,1457.6)" font-size="24.42" text-anchor="middle" fill="#2b2b2b" textLength="29.3" lengthAdjust="spacing">30</text>
<line x1="1780.8" y1="1422.8" x2="1780.8" y2="1432.8" stroke="#222" stroke-width="2.2"/>
<text class="s" transform="translate(1778.2,1457.6)" font-size="24.42" text-anchor="middle" fill="#2b2b2b" textLength="29.3" lengthAdjust="spacing">40</text>
<line x1="1930.1" y1="1422.8" x2="1930.1" y2="1432.8" stroke="#222" stroke-width="2.2"/>
<text class="s" transform="translate(1930.3,1457.6)" font-size="24.42" text-anchor="middle" fill="#2b2b2b" textLength="29.3" lengthAdjust="spacing">50</text>
<line x1="1146.5" y1="1422.8" x2="1155.1" y2="1422.8" stroke="#222" stroke-width="2.2"/>
<text class="s" transform="translate(1136,1430.8)" font-size="24.42" text-anchor="end" fill="#2b2b2b">0</text>
<line x1="1146.5" y1="1316.4" x2="1155.1" y2="1316.4" stroke="#222" stroke-width="2.2"/>
<text class="s" transform="translate(1136,1322.4)" font-size="24.42" text-anchor="end" fill="#2b2b2b" textLength="29.3" lengthAdjust="spacing">20</text>
<line x1="1146.5" y1="1210" x2="1155.1" y2="1210" stroke="#222" stroke-width="2.2"/>
<text class="s" transform="translate(1136,1219)" font-size="24.42" text-anchor="end" fill="#2b2b2b" textLength="29.3" lengthAdjust="spacing">40</text>
<line x1="1146.5" y1="1103.6" x2="1155.1" y2="1103.6" stroke="#222" stroke-width="2.2"/>
<text class="s" transform="translate(1136,1111.1)" font-size="24.42" text-anchor="end" fill="#2b2b2b" textLength="29.3" lengthAdjust="spacing">60</text>
<line x1="1146.5" y1="997.2" x2="1155.1" y2="997.2" stroke="#222" stroke-width="2.2"/>
<text class="s" transform="translate(1136,1005.7)" font-size="24.42" text-anchor="end" fill="#2b2b2b" textLength="29.3" lengthAdjust="spacing">80</text>
<text class="s" transform="translate(1563,876)" font-size="29.3" text-anchor="middle" fill="#2b2b2b" textLength="566.2" lengthAdjust="spacing">Classwise Accuracy of UCF-50 Dataset</text>
<text class="s" transform="translate(1562,1492.6)" font-size="24.42" text-anchor="middle" fill="#2b2b2b" textLength="88.5" lengthAdjust="spacing">Activity</text>
<text class="s" transform="translate(1088,1158) rotate(-90)" font-size="24.42" text-anchor="middle" fill="#2b2b2b" textLength="107.45" lengthAdjust="spacing">Accuracy</text>
</g>
</g>
<text class="r" transform="translate(0,742.4) scale(1.02,1)" font-size="46.3"><tspan x="131.15">(a): </tspan><tspan x="207.25">Test </tspan><tspan x="297.55">and </tspan><tspan x="377.28">Train </tspan><tspan x="487.95">Loss </tspan><tspan x="586.29">of </tspan><tspan x="637.71">UCF50</tspan></text>
<text class="r" transform="translate(0,722.4) scale(1.02,1)" font-size="46.3"><tspan x="1140.84">(b): </tspan><tspan x="1220.86">Test </tspan><tspan x="1310.58">and </tspan><tspan x="1389.52">Train </tspan><tspan x="1500.78">Accuracy </tspan><tspan x="1688.64">of </tspan><tspan x="1740.94">UCF50</tspan></text>
<text class="r" transform="translate(0,1573.2) scale(1.02,1)" font-size="46.3"><tspan x="152.79">(c): </tspan><tspan x="228.5">Confusion </tspan><tspan x="432.62">matrix </tspan><tspan x="564.15">of </tspan><tspan x="615.18">UCF50</tspan></text>
<text class="r" transform="translate(0,1568.5) scale(1.02,1)" font-size="46.3"><tspan x="1183.94">(d): </tspan><tspan x="1261.8">Classwise </tspan><tspan x="1458.57">Accuracy </tspan><tspan x="1646.52">of </tspan><tspan x="1698.33">UCF50</tspan></text>
</svg></body></html>
